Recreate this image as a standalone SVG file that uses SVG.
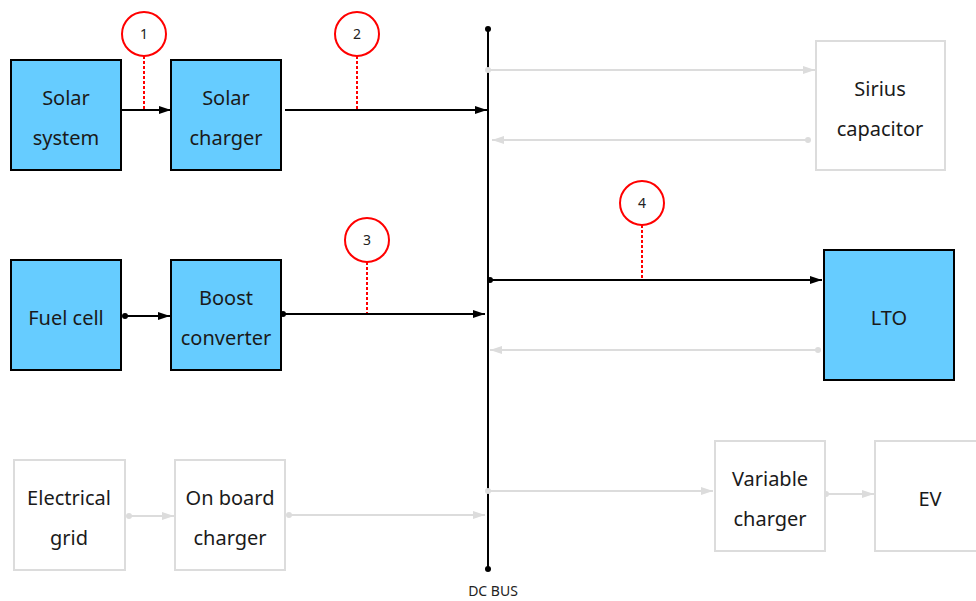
<svg xmlns="http://www.w3.org/2000/svg" width="976" height="601" viewBox="0 0 976 601">
<style>
.blue{fill:#66ccff;stroke:#000;stroke-width:2}
.gray{fill:#fff;stroke:#dcdcdc;stroke-width:2}
.lbl{font-family:"Noto Sans","Open Sans",sans-serif;font-size:20px;fill:#1a1a1a;text-anchor:middle}
.num{font-family:"Noto Sans","Open Sans",sans-serif;font-size:14px;fill:#222;text-anchor:middle}
.bk{stroke:#000;stroke-width:2;fill:none;marker-end:url(#ab)}
.gy{stroke:#dcdcdc;stroke-width:2;fill:none;marker-end:url(#ag)}
.dot{stroke:#ff0000;stroke-width:2;stroke-dasharray:3 2;fill:none}
.circ{fill:#fff;stroke:#ff0000;stroke-width:2}
</style>
<defs>
<marker id="ab" viewBox="0 0 12 8" refX="12" refY="4" markerWidth="12" markerHeight="8" markerUnits="userSpaceOnUse" orient="auto"><path d="M0,0L12,4L0,8z" fill="#000"/></marker>
<marker id="ag" viewBox="0 0 12 8" refX="12" refY="4" markerWidth="12" markerHeight="8" markerUnits="userSpaceOnUse" orient="auto"><path d="M0,0L12,4L0,8z" fill="#dcdcdc"/></marker>
</defs>
<rect width="976" height="601" fill="#fff"/>
<g id="connectors">
<line x1="488" y1="29" x2="488" y2="569" stroke="#000" stroke-width="2"/>
<circle cx="488" cy="29" r="3" fill="#000"/>
<circle cx="488" cy="569" r="3" fill="#000"/>
<line class="bk" x1="121" y1="110" x2="171" y2="110"/>
<line class="bk" x1="285" y1="110" x2="487" y2="110"/>
<line class="gy" x1="488" y1="70" x2="815" y2="70"/>
<circle cx="488" cy="70" r="3" fill="#dcdcdc"/>
<line class="gy" x1="808" y1="140" x2="492" y2="140"/>
<circle cx="808" cy="140" r="3" fill="#dcdcdc"/>
<line class="bk" x1="488" y1="280" x2="822" y2="280"/>
<circle cx="490" cy="280" r="3" fill="#000"/>
<line class="gy" x1="818" y1="350" x2="490" y2="350"/>
<circle cx="818" cy="350" r="3" fill="#dcdcdc"/>
<line class="bk" x1="125" y1="316" x2="170" y2="316"/>
<circle cx="125" cy="316" r="3" fill="#000"/>
<line class="bk" x1="283" y1="314" x2="485" y2="314"/>
<circle cx="283" cy="314" r="3" fill="#000"/>
<line class="gy" x1="129" y1="516" x2="174" y2="516"/>
<circle cx="129" cy="516" r="3" fill="#dcdcdc"/>
<line class="gy" x1="289" y1="515" x2="485" y2="515"/>
<circle cx="289" cy="515" r="3" fill="#dcdcdc"/>
<line class="gy" x1="488" y1="491" x2="713" y2="491"/>
<circle cx="488" cy="491" r="3" fill="#dcdcdc"/>
<line class="gy" x1="826" y1="494" x2="874" y2="494"/>
<circle cx="826" cy="494" r="3" fill="#dcdcdc"/>
<line class="dot" x1="144" y1="56" x2="144" y2="109"/>
<line class="dot" x1="357" y1="56" x2="357" y2="109"/>
<line class="dot" x1="367" y1="262" x2="367" y2="313"/>
<line class="dot" x1="642" y1="225" x2="642" y2="279"/>
</g>
<g id="n1"><circle class="circ" cx="144" cy="34" r="22"/><text class="num" x="144" y="39">1</text></g>
<g id="n2"><circle class="circ" cx="357" cy="34" r="22"/><text class="num" x="357" y="39">2</text></g>
<g id="n3"><circle class="circ" cx="367" cy="240" r="22"/><text class="num" x="367" y="245">3</text></g>
<g id="n4"><circle class="circ" cx="642" cy="203" r="22"/><text class="num" x="642" y="208">4</text></g>
<g id="solar-system"><rect class="blue" x="11" y="60" width="110" height="110"/><text class="lbl" x="66" y="105">Solar</text><text class="lbl" x="66" y="145">system</text></g>
<g id="solar-charger"><rect class="blue" x="171" y="60" width="110" height="110"/><text class="lbl" x="226" y="105">Solar</text><text class="lbl" x="226" y="145">charger</text></g>
<g id="fuel-cell"><rect class="blue" x="11" y="260" width="110" height="110"/><text class="lbl" x="66" y="325">Fuel cell</text></g>
<g id="boost-converter"><rect class="blue" x="171" y="260" width="110" height="110"/><text class="lbl" x="226" y="305">Boost</text><text class="lbl" x="226" y="345">converter</text></g>
<g id="sirius"><rect class="gray" x="816" y="41" width="129" height="129"/><text class="lbl" x="880" y="96">Sirius</text><text class="lbl" x="880" y="136">capacitor</text></g>
<g id="lto"><rect class="blue" x="824" y="250" width="130" height="130"/><text class="lbl" x="889" y="325">LTO</text></g>
<g id="grid"><rect class="gray" x="14" y="460" width="111" height="110"/><text class="lbl" x="69" y="505">Electrical</text><text class="lbl" x="69" y="545">grid</text></g>
<g id="onboard"><rect class="gray" x="175" y="460" width="110" height="110"/><text class="lbl" x="230" y="505">On board</text><text class="lbl" x="230" y="545">charger</text></g>
<g id="variable"><rect class="gray" x="715" y="441" width="110" height="110"/><text class="lbl" x="770" y="486">Variable</text><text class="lbl" x="770" y="526">charger</text></g>
<g id="ev"><rect class="gray" x="875" y="441" width="110" height="110"/><text class="lbl" x="930" y="506">EV</text></g>
<g id="dcbus"><text class="num" x="493" y="596" font-size="13">DC BUS</text></g>
</svg>
